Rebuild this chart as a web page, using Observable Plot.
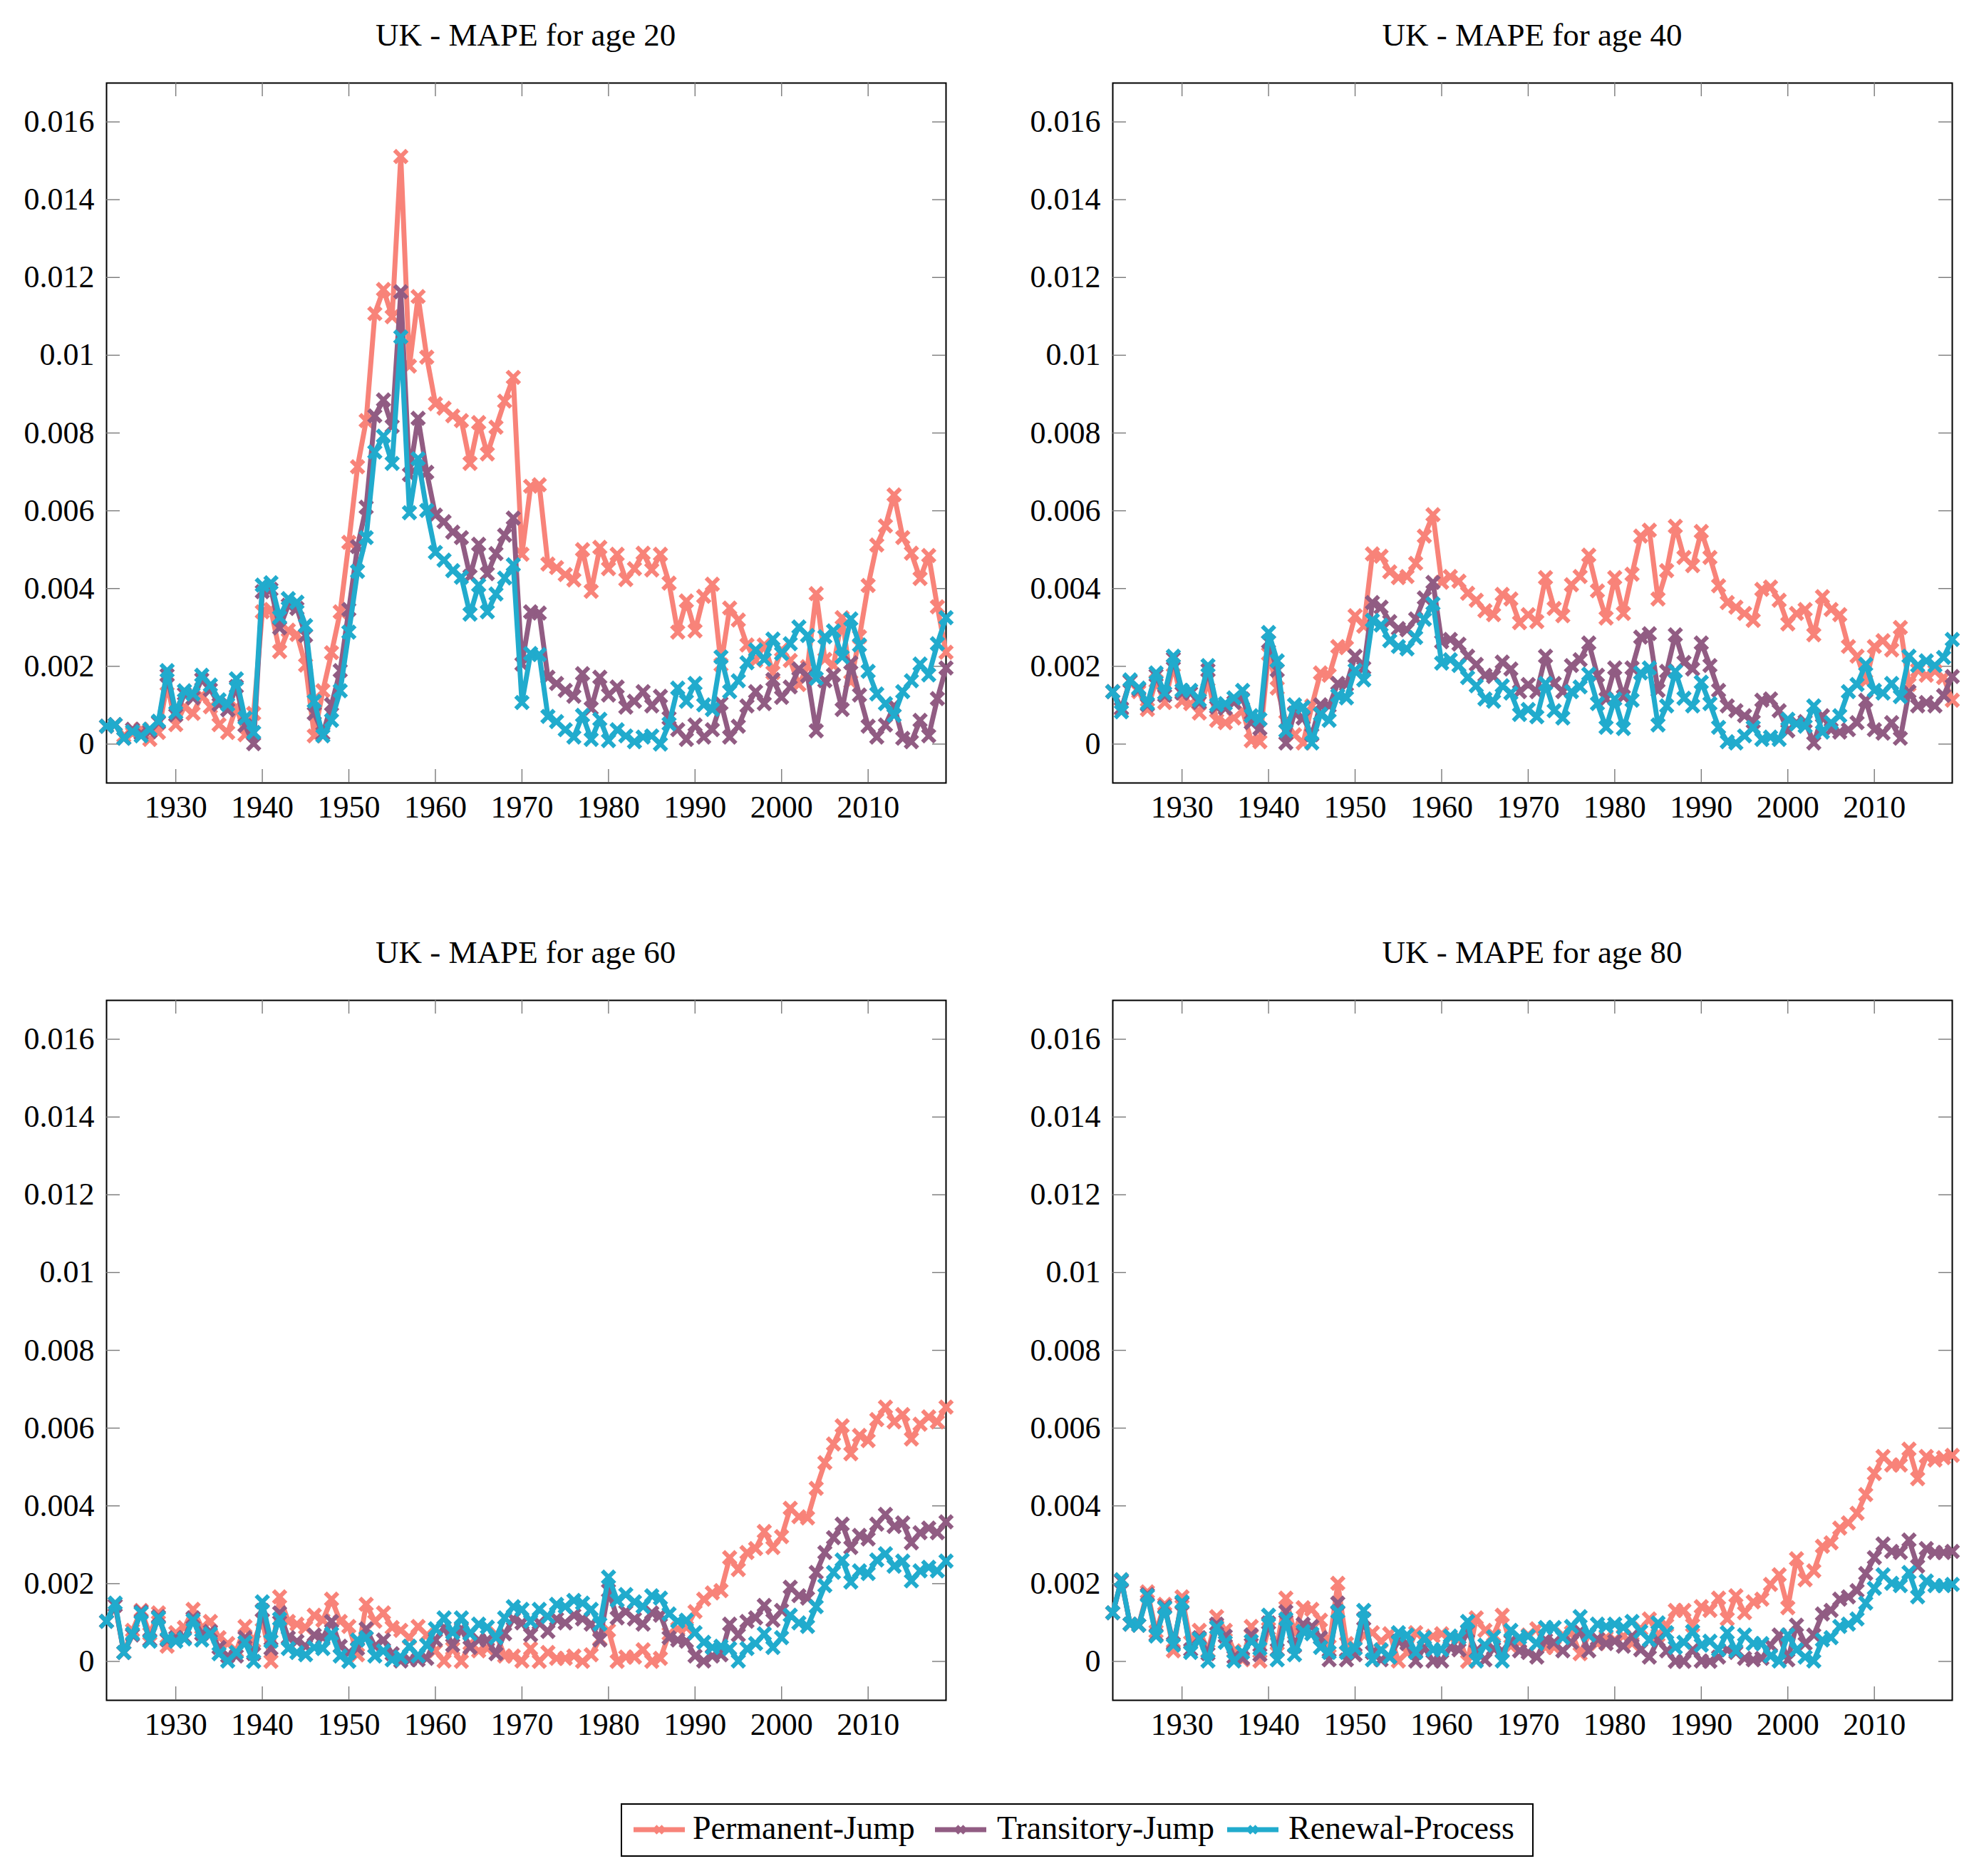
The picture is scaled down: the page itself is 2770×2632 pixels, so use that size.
<!DOCTYPE html>
<html><head><meta charset="utf-8">
<script src="https://cdn.jsdelivr.net/npm/d3@7"></script>
<script src="https://cdn.jsdelivr.net/npm/@observablehq/plot@0.6"></script>
<style>
body{margin:0;background:#fff;}
#root{position:relative;width:2770px;height:2632px;background:#fff;overflow:hidden;}
#root svg{position:absolute;}
#root svg text{font-family:"Liberation Serif","DejaVu Serif",serif !important;}
</style></head><body><div id="root"></div>
<script>
const years = [1922,1923,1924,1925,1926,1927,1928,1929,1930,1931,1932,1933,1934,1935,1936,1937,1938,1939,1940,1941,
1942,1943,1944,1945,1946,1947,1948,1949,1950,1951,1952,1953,1954,1955,1956,1957,1958,1959,1960,1961,
1962,1963,1964,1965,1966,1967,1968,1969,1970,1971,1972,1973,1974,1975,1976,1977,1978,1979,1980,1981,
1982,1983,1984,1985,1986,1987,1988,1989,1990,1991,1992,1993,1994,1995,1996,1997,1998,1999,2000,2001,
2002,2003,2004,2005,2006,2007,2008,2009,2010,2011,2012,2013,2014,2015,2016,2017,2018,2019];

const seriesNames = ["Permanent-Jump","Transitory-Jump","Renewal-Process"];
const seriesColors = ["#F88379","#915C83","#21ABCD"];
const xTicks = [1930,1940,1950,1960,1970,1980,1990,2000,2010];
const yTicks = [0,0.002,0.004,0.006,0.008,0.010,0.012,0.014,0.016];
const titles = ["UK - MAPE for age 20","UK - MAPE for age 40","UK - MAPE for age 60","UK - MAPE for age 80"];

// ---- age 20 ----
const age20_perm = [0.00046,0.00050,0.00021,0.00027,0.00038,0.00012,0.00030,0.00154,0.00050,0.00096,
0.00079,0.00125,0.00096,0.00050,0.00030,0.00096,0.00024,0.00079,0.00340,0.00346,
0.00238,0.00293,0.00282,0.00203,0.00021,0.00137,0.00235,0.00340,0.00519,0.00713,
0.00832,0.01107,0.01169,0.01099,0.01511,0.00972,0.01151,0.00995,0.00875,0.00864,
0.00844,0.00832,0.00722,0.00827,0.00746,0.00815,0.00882,0.00943,0.00488,0.00663,
0.00667,0.00463,0.00454,0.00436,0.00422,0.00500,0.00393,0.00506,0.00451,0.00488,
0.00423,0.00451,0.00491,0.00448,0.00488,0.00414,0.00288,0.00368,0.00291,0.00380,
0.00411,0.00204,0.00350,0.00319,0.00255,0.00215,0.00255,0.00184,0.00242,0.00215,
0.00153,0.00199,0.00387,0.00218,0.00202,0.00325,0.00160,0.00276,0.00408,0.00512,
0.00561,0.00641,0.00531,0.00491,0.00426,0.00485,0.00353,0.00236];
const age20_trans = [0.00046,0.00050,0.00015,0.00038,0.00027,0.00032,0.00056,0.00177,0.00075,0.00129,
0.00119,0.00166,0.00140,0.00102,0.00088,0.00148,0.00048,0.00001,0.00392,0.00398,
0.00299,0.00357,0.00349,0.00279,0.00079,0.00027,0.00102,0.00189,0.00346,0.00508,
0.00609,0.00844,0.00885,0.00817,0.01163,0.00693,0.00838,0.00699,0.00589,0.00572,
0.00545,0.00531,0.00432,0.00514,0.00438,0.00490,0.00537,0.00581,0.00206,0.00340,
0.00337,0.00172,0.00156,0.00138,0.00123,0.00181,0.00092,0.00172,0.00126,0.00147,
0.00095,0.00110,0.00135,0.00098,0.00123,0.00067,0.00037,0.00012,0.00049,0.00018,
0.00037,0.00105,0.00018,0.00046,0.00098,0.00135,0.00104,0.00166,0.00120,0.00147,
0.00193,0.00175,0.00034,0.00163,0.00178,0.00089,0.00209,0.00126,0.00046,0.00018,
0.00049,0.00098,0.00015,0.00006,0.00061,0.00021,0.00117,0.00196];
const age20_renew = [0.00046,0.00050,0.00015,0.00032,0.00021,0.00038,0.00059,0.00189,0.00081,0.00137,
0.00129,0.00177,0.00152,0.00114,0.00102,0.00168,0.00067,0.00030,0.00409,0.00415,
0.00326,0.00374,0.00365,0.00305,0.00110,0.00021,0.00061,0.00137,0.00288,0.00444,
0.00531,0.00751,0.00792,0.00722,0.01047,0.00595,0.00734,0.00601,0.00493,0.00473,
0.00446,0.00429,0.00334,0.00409,0.00340,0.00386,0.00427,0.00461,0.00107,0.00233,
0.00230,0.00071,0.00058,0.00037,0.00018,0.00074,0.00012,0.00064,0.00009,0.00037,
0.00021,0.00006,0.00018,0.00021,0.00000,0.00052,0.00144,0.00110,0.00156,0.00101,
0.00089,0.00224,0.00135,0.00163,0.00209,0.00242,0.00218,0.00270,0.00233,0.00258,
0.00301,0.00279,0.00169,0.00276,0.00291,0.00224,0.00322,0.00255,0.00187,0.00129,
0.00104,0.00074,0.00135,0.00163,0.00206,0.00178,0.00258,0.00325];

// ---- age 40 ----
const age40_perm = [0.00135,0.00090,0.00162,0.00135,0.00089,0.00162,0.00107,0.00202,0.00110,0.00104,
0.00080,0.00165,0.00061,0.00055,0.00067,0.00086,0.00009,0.00006,0.00232,0.00144,
0.00058,0.00024,0.00003,0.00098,0.00183,0.00177,0.00251,0.00248,0.00330,0.00303,
0.00489,0.00483,0.00443,0.00428,0.00431,0.00465,0.00535,0.00590,0.00416,0.00431,
0.00419,0.00388,0.00370,0.00343,0.00333,0.00385,0.00373,0.00312,0.00333,0.00315,
0.00428,0.00349,0.00330,0.00410,0.00431,0.00486,0.00394,0.00324,0.00428,0.00336,
0.00437,0.00535,0.00550,0.00373,0.00446,0.00560,0.00480,0.00459,0.00547,0.00480,
0.00407,0.00364,0.00352,0.00336,0.00318,0.00398,0.00404,0.00370,0.00309,0.00336,
0.00346,0.00281,0.00379,0.00346,0.00333,0.00251,0.00226,0.00162,0.00251,0.00266,
0.00242,0.00300,0.00153,0.00190,0.00177,0.00187,0.00171,0.00113];
const age40_trans = [0.00135,0.00092,0.00162,0.00141,0.00101,0.00177,0.00125,0.00220,0.00131,0.00131,
0.00107,0.00190,0.00095,0.00092,0.00107,0.00116,0.00055,0.00040,0.00263,0.00190,
0.00003,0.00080,0.00067,0.00024,0.00101,0.00098,0.00156,0.00153,0.00226,0.00196,
0.00364,0.00352,0.00315,0.00297,0.00294,0.00322,0.00376,0.00416,0.00263,0.00269,
0.00257,0.00226,0.00205,0.00177,0.00174,0.00211,0.00193,0.00135,0.00153,0.00135,
0.00226,0.00156,0.00135,0.00202,0.00217,0.00260,0.00177,0.00116,0.00196,0.00122,
0.00196,0.00275,0.00284,0.00138,0.00187,0.00281,0.00210,0.00193,0.00260,0.00202,
0.00138,0.00098,0.00086,0.00073,0.00058,0.00113,0.00116,0.00086,0.00034,0.00055,
0.00058,0.00003,0.00073,0.00037,0.00031,0.00037,0.00055,0.00113,0.00037,0.00028,
0.00055,0.00015,0.00135,0.00098,0.00107,0.00098,0.00125,0.00174];
const age40_renew = [0.00135,0.00083,0.00165,0.00144,0.00104,0.00183,0.00131,0.00226,0.00138,0.00138,
0.00113,0.00202,0.00101,0.00104,0.00119,0.00138,0.00073,0.00064,0.00287,0.00214,
0.00034,0.00101,0.00095,0.00003,0.00077,0.00061,0.00125,0.00119,0.00190,0.00165,
0.00318,0.00306,0.00266,0.00251,0.00245,0.00274,0.00321,0.00361,0.00208,0.00217,
0.00202,0.00171,0.00150,0.00116,0.00110,0.00150,0.00131,0.00076,0.00089,0.00070,
0.00156,0.00086,0.00067,0.00135,0.00147,0.00180,0.00104,0.00043,0.00116,0.00040,
0.00113,0.00183,0.00196,0.00049,0.00098,0.00187,0.00118,0.00098,0.00159,0.00104,
0.00043,0.00006,0.00003,0.00021,0.00043,0.00012,0.00018,0.00012,0.00064,0.00052,
0.00046,0.00098,0.00031,0.00055,0.00073,0.00135,0.00153,0.00205,0.00138,0.00131,
0.00156,0.00122,0.00226,0.00202,0.00214,0.00202,0.00223,0.00269];

// ---- age 60 ----
const age60_perm = [0.00103,0.00144,0.00023,0.00080,0.00131,0.00071,0.00125,0.00039,0.00074,0.00087,
0.00134,0.00087,0.00103,0.00061,0.00046,0.00027,0.00090,0.00052,0.00106,0.00000,
0.00166,0.00103,0.00096,0.00087,0.00119,0.00106,0.00160,0.00103,0.00090,0.00017,
0.00147,0.00103,0.00125,0.00087,0.00080,0.00061,0.00090,0.00068,0.00027,0.00001,
0.00033,0.00000,0.00046,0.00027,0.00033,0.00071,0.00014,0.00014,0.00001,0.00033,
0.00000,0.00023,0.00008,0.00008,0.00014,0.00000,0.00017,0.00058,0.00080,0.00000,
0.00011,0.00011,0.00030,0.00000,0.00008,0.00071,0.00084,0.00087,0.00128,0.00160,
0.00176,0.00182,0.00267,0.00236,0.00280,0.00290,0.00334,0.00293,0.00321,0.00394,
0.00372,0.00369,0.00445,0.00511,0.00559,0.00606,0.00534,0.00581,0.00568,0.00622,
0.00654,0.00616,0.00635,0.00572,0.00610,0.00629,0.00616,0.00654];
const age60_trans = [0.00103,0.00144,0.00023,0.00068,0.00128,0.00055,0.00115,0.00055,0.00061,0.00061,
0.00112,0.00071,0.00077,0.00036,0.00014,0.00014,0.00061,0.00020,0.00131,0.00033,
0.00125,0.00061,0.00052,0.00039,0.00068,0.00061,0.00103,0.00039,0.00023,0.00033,
0.00084,0.00039,0.00055,0.00020,0.00001,0.00004,0.00004,0.00008,0.00055,0.00087,
0.00042,0.00084,0.00036,0.00055,0.00055,0.00020,0.00071,0.00109,0.00099,0.00068,
0.00099,0.00077,0.00109,0.00099,0.00119,0.00109,0.00096,0.00055,0.00182,0.00112,
0.00128,0.00109,0.00096,0.00125,0.00119,0.00061,0.00055,0.00052,0.00014,0.00001,
0.00014,0.00017,0.00096,0.00068,0.00103,0.00112,0.00144,0.00106,0.00131,0.00191,
0.00169,0.00163,0.00229,0.00280,0.00318,0.00353,0.00293,0.00324,0.00315,0.00353,
0.00378,0.00347,0.00356,0.00305,0.00331,0.00343,0.00331,0.00359];
const age60_renew = [0.00103,0.00150,0.00023,0.00071,0.00125,0.00052,0.00112,0.00058,0.00052,0.00058,
0.00106,0.00055,0.00071,0.00020,0.00001,0.00023,0.00049,0.00000,0.00153,0.00052,
0.00109,0.00033,0.00023,0.00017,0.00036,0.00033,0.00071,0.00014,0.00000,0.00055,
0.00061,0.00014,0.00027,0.00004,0.00011,0.00039,0.00014,0.00042,0.00084,0.00112,
0.00074,0.00112,0.00071,0.00096,0.00088,0.00061,0.00112,0.00141,0.00134,0.00103,
0.00134,0.00115,0.00147,0.00141,0.00157,0.00150,0.00134,0.00096,0.00217,0.00157,
0.00172,0.00153,0.00141,0.00169,0.00163,0.00122,0.00103,0.00106,0.00074,0.00049,
0.00036,0.00039,0.00033,0.00001,0.00033,0.00046,0.00071,0.00036,0.00061,0.00119,
0.00099,0.00090,0.00141,0.00195,0.00229,0.00261,0.00204,0.00233,0.00226,0.00261,
0.00277,0.00245,0.00258,0.00207,0.00233,0.00242,0.00233,0.00258];

// ---- age 80 ----
const age80_perm = [0.00125,0.00210,0.00096,0.00093,0.00179,0.00077,0.00147,0.00027,0.00166,0.00049,
0.00080,0.00027,0.00115,0.00080,0.00027,0.00004,0.00090,0.00001,0.00084,0.00046,
0.00163,0.00074,0.00138,0.00134,0.00106,0.00039,0.00201,0.00046,0.00036,0.00068,
0.00074,0.00052,0.00071,0.00001,0.00023,0.00074,0.00055,0.00065,0.00071,0.00061,
0.00061,0.00000,0.00112,0.00080,0.00068,0.00119,0.00039,0.00049,0.00068,0.00084,
0.00036,0.00036,0.00068,0.00074,0.00020,0.00068,0.00046,0.00061,0.00055,0.00065,
0.00046,0.00084,0.00109,0.00068,0.00093,0.00131,0.00131,0.00093,0.00141,0.00131,
0.00163,0.00109,0.00169,0.00125,0.00153,0.00160,0.00198,0.00223,0.00138,0.00264,
0.00210,0.00233,0.00296,0.00305,0.00343,0.00356,0.00381,0.00429,0.00483,0.00527,
0.00505,0.00505,0.00546,0.00470,0.00527,0.00518,0.00524,0.00530];
const age80_trans = [0.00125,0.00207,0.00096,0.00093,0.00172,0.00068,0.00141,0.00046,0.00150,0.00030,
0.00061,0.00020,0.00096,0.00065,0.00011,0.00008,0.00068,0.00017,0.00099,0.00030,
0.00128,0.00039,0.00096,0.00090,0.00061,0.00004,0.00150,0.00004,0.00017,0.00109,
0.00023,0.00004,0.00011,0.00052,0.00046,0.00001,0.00036,0.00001,0.00001,0.00036,
0.00030,0.00077,0.00027,0.00004,0.00033,0.00027,0.00052,0.00027,0.00023,0.00011,
0.00055,0.00049,0.00027,0.00049,0.00077,0.00027,0.00058,0.00046,0.00052,0.00039,
0.00065,0.00030,0.00011,0.00055,0.00027,0.00000,0.00000,0.00030,0.00001,0.00000,
0.00011,0.00030,0.00023,0.00008,0.00004,0.00008,0.00042,0.00068,0.00004,0.00093,
0.00046,0.00068,0.00122,0.00131,0.00160,0.00166,0.00182,0.00226,0.00267,0.00302,
0.00283,0.00280,0.00312,0.00245,0.00290,0.00280,0.00280,0.00283];
const age80_renew = [0.00125,0.00210,0.00096,0.00093,0.00169,0.00065,0.00138,0.00042,0.00153,0.00023,
0.00058,0.00001,0.00087,0.00049,0.00001,0.00023,0.00052,0.00033,0.00119,0.00004,
0.00109,0.00017,0.00077,0.00071,0.00036,0.00023,0.00128,0.00023,0.00033,0.00131,
0.00004,0.00030,0.00011,0.00074,0.00068,0.00023,0.00061,0.00030,0.00030,0.00065,
0.00061,0.00103,0.00001,0.00042,0.00063,0.00001,0.00080,0.00061,0.00065,0.00046,
0.00087,0.00087,0.00061,0.00090,0.00115,0.00068,0.00096,0.00090,0.00096,0.00087,
0.00103,0.00077,0.00055,0.00099,0.00074,0.00036,0.00049,0.00077,0.00042,0.00052,
0.00030,0.00074,0.00027,0.00068,0.00046,0.00046,0.00014,0.00001,0.00068,0.00030,
0.00011,0.00001,0.00055,0.00061,0.00090,0.00096,0.00109,0.00150,0.00188,0.00223,
0.00201,0.00195,0.00229,0.00166,0.00207,0.00195,0.00195,0.00198];

const FONT = '"Liberation Serif", "DejaVu Serif", serif';
const PW = 1178, PH = 982;              // inner frame size
const ML = 150, MR = 30, MT = 30, MB = 90;
const TICK = 19;
const panels = [
  {title: titles[0], data: [age20_perm, age20_trans, age20_renew], left: 148.7, top: 116},
  {title: titles[1], data: [age40_perm, age40_trans, age40_renew], left: 1561, top: 116},
  {title: titles[2], data: [age60_perm, age60_trans, age60_renew], left: 148.7, top: 1403},
  {title: titles[3], data: [age80_perm, age80_trans, age80_renew], left: 1561, top: 1403}
];
const yFmt = d => d === 0 ? "0" : String(+d.toFixed(3));
const root = document.getElementById("root");

panels.forEach(p => {
  const marks = [
    Plot.frame({stroke: "black", strokeWidth: 2}),
    Plot.tickX(xTicks, {x: d => d, insetTop: PH - TICK, stroke: "#7a7a7a", strokeWidth: 1.4}),
    Plot.tickX(xTicks, {x: d => d, insetBottom: PH - TICK, stroke: "#7a7a7a", strokeWidth: 1.4}),
    Plot.tickY(yTicks, {y: d => d, insetRight: PW - TICK, stroke: "#7a7a7a", strokeWidth: 1.4}),
    Plot.tickY(yTicks, {y: d => d, insetLeft: PW - TICK, stroke: "#7a7a7a", strokeWidth: 1.4})
  ];
  p.data.forEach((arr, s) => {
    const rows = arr.map((v, i) => ({year: years[i], value: v, series: seriesNames[s]}));
    marks.push(Plot.line(rows, {x: "year", y: "value", stroke: seriesColors[s], strokeWidth: 7, strokeLinejoin: "round", strokeLinecap: "round"}));
    marks.push(Plot.dot(rows, {x: "year", y: "value", symbol: "times", r: 8, stroke: seriesColors[s], strokeWidth: 6}));
  });
  const svg = Plot.plot({
    width: PW + ML + MR, height: PH + MT + MB,
    marginLeft: ML, marginRight: MR, marginTop: MT, marginBottom: MB,
    x: {domain: [1922, 2019], ticks: xTicks, tickFormat: d => String(d), tickSize: 0, tickPadding: 17, label: null},
    y: {domain: [-0.001, 0.017], ticks: yTicks, tickFormat: yFmt, tickSize: 0, tickPadding: 17, label: null},
    style: {fontFamily: FONT, fontSize: "44px", color: "black", background: "transparent", overflow: "visible"},
    marks
  });
  svg.setAttribute("font-family", FONT);
  svg.querySelectorAll("text").forEach(t => { t.style.fontFamily = FONT; });
  svg.style.left = (p.left - ML) + "px";
  svg.style.top = (p.top - MT) + "px";
  root.appendChild(svg);
});

// titles + legend overlay
const ov = d3.select(root).append("svg")
  .attr("width", 2770).attr("height", 2632)
  .style("left", "0px").style("top", "0px")
  .style("font-family", FONT);
panels.forEach(p => {
  ov.append("text").attr("x", p.left + PW / 2).attr("y", p.top - 52)
    .attr("text-anchor", "middle").attr("font-size", 45).attr("fill", "black").text(p.title);
});
ov.append("rect").attr("x", 872).attr("y", 2531).attr("width", 1279).attr("height", 73)
  .attr("fill", "white").attr("stroke", "black").attr("stroke-width", 2);
const legendLineX = [889, 1312, 1722];
const legendTextX = [972, 1399, 1808];
const timesPath = d3.symbol(d3.symbolTimes, 70)();
seriesNames.forEach((name, s) => {
  ov.append("line").attr("x1", legendLineX[s]).attr("x2", legendLineX[s] + 72)
    .attr("y1", 2567).attr("y2", 2567).attr("stroke", seriesColors[s]).attr("stroke-width", 7);
  ov.append("path").attr("d", timesPath).attr("transform", `translate(${legendLineX[s] + 36},2567)`)
    .attr("fill", "none").attr("stroke", seriesColors[s]).attr("stroke-width", 4.5);
  ov.append("text").attr("x", legendTextX[s]).attr("y", 2580).attr("font-size", 46)
    .attr("fill", "black").text(name);
});
</script>
</body></html>
